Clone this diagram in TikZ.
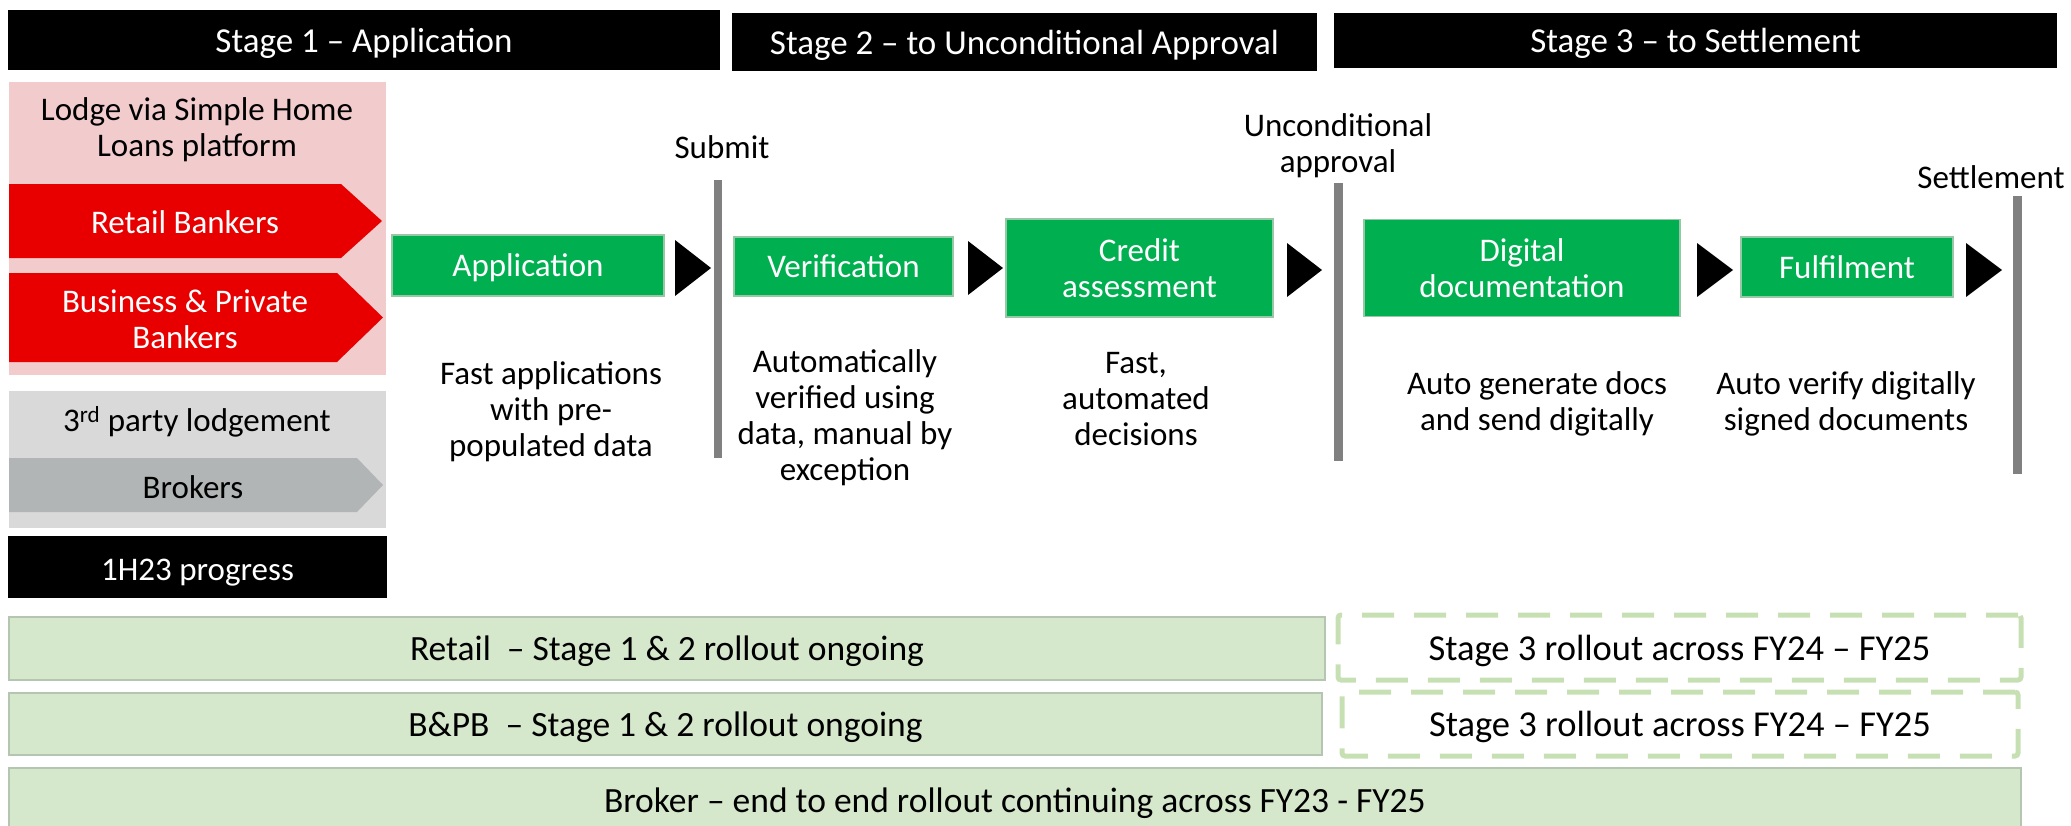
\documentclass[tikz,border=0pt]{standalone}
\usepackage{fontspec}
\setmainfont{Carlito}
\definecolor{procgreen}{RGB}{0,176,80}
\definecolor{procedge}{RGB}{150,200,165}
\definecolor{pinkbg}{RGB}{242,203,205}
\definecolor{redarr}{RGB}{232,0,0}
\definecolor{graybg}{RGB}{217,217,217}
\definecolor{grayarr}{RGB}{178,181,181}
\definecolor{bargray}{RGB}{128,128,128}
\definecolor{barfill}{RGB}{213,232,204}
\definecolor{baredge}{RGB}{180,198,178}
\definecolor{dashgreen}{RGB}{198,224,180}
\begin{document}
\begin{tikzpicture}[x=1pt,y=-1pt,
  hdr/.style={fill=black,text=white,font=\fontsize{35}{40}\selectfont,inner sep=0pt,text depth=0pt},
  txt/.style={font=\fontsize{33}{36}\selectfont,align=center,inner sep=0pt},
  proc/.style={fill=procgreen,draw=procedge,line width=1.5pt,text=white,font=\fontsize{33}{36}\selectfont,align=center,inner sep=0pt},
  lbl/.style={font=\fontsize{33}{36}\selectfont,inner sep=0pt},
  bar/.style={fill=barfill,draw=baredge,line width=1.5pt,font=\fontsize{35.5}{40}\selectfont,inner sep=0pt,text depth=0pt},
  dbox/.style={draw=dashgreen,line width=5pt,dash pattern=on 32pt off 20pt,rounded corners=3pt,font=\fontsize{36.5}{40}\selectfont,inner sep=0pt,text depth=0pt},
  milestone/.style={fill=bargray,draw=none},
  tri/.style={fill=black}]
\useasboundingbox (0,0) rectangle (2071,825);

% headers
\node[hdr,minimum width=712,minimum height=60] (h1) at (364,40) {Stage 1 – Application};
\node[hdr,minimum width=585,minimum height=58] (h2) at (1024.5,42) {Stage 2 – to Unconditional Approval};
\node[hdr,minimum width=723,minimum height=55] (h3) at (1695.5,40) {Stage 3 – to Settlement};

% left column
\fill[pinkbg] (9,82) rectangle (386,375);
\node[txt] (lodge) at (197,130) {Lodge via Simple Home\\Loans platform};
\fill[redarr] (9,184) -- (341,184) -- (382,221) -- (341,258) -- (9,258) -- cycle;
\node[txt,text=white] (retail) at (185,222) {Retail Bankers};
\fill[redarr] (9,273) -- (337,273) -- (383,317.5) -- (337,362) -- (9,362) -- cycle;
\node[txt,text=white] (bpb) at (185,319) {Business \& Private\\Bankers};
\fill[graybg] (9,391) rectangle (386,528);
\node[txt] (third) at (197,422) {3\textsuperscript{rd} party lodgement};
\fill[grayarr] (9,458) -- (357,458) -- (383,485) -- (357,512) -- (9,512) -- cycle;
\node[txt] (brokers) at (193,487) {Brokers};
\node[hdr,font=\fontsize{33}{36}\selectfont,minimum width=379,minimum height=62,text height=27pt] (prog) at (197.5,567) {1H23 progress};

% process
\node[proc,minimum width=272,minimum height=61,text depth=0pt] (app) at (528,265.5) {Application};
\fill[tri] (675,240) -- (711,268) -- (675,296) -- cycle;
\fill[milestone] (714,180) rectangle (722,458);
\node[lbl] (submit) at (722,147) {Submit};
\node[txt] (appd) at (551,412) {Fast applications\\with pre-\\populated data};

\node[proc,minimum width=219,minimum height=59,text depth=0pt] (ver) at (843.5,266.5) {Verification};
\fill[tri] (968,241) -- (1003,268) -- (968,295) -- cycle;
\node[txt] (verd) at (845,418) {Automatically\\verified using\\data, manual by\\exception};

\node[proc,minimum width=267,minimum height=98] (cred) at (1139.5,268) {Credit\\assessment};
\fill[tri] (1287,243) -- (1322,270) -- (1287,297) -- cycle;
\node[txt] (credd) at (1136,399) {Fast,\\automated\\decisions};

\fill[milestone] (1334,183) rectangle (1343,461);
\node[txt] (uncond) at (1338,146) {Unconditional\\approval};

\node[proc,minimum width=316,minimum height=97] (dig) at (1522,268) {Digital\\documentation};
\fill[tri] (1697,243) -- (1733,270) -- (1697,297) -- cycle;
\node[txt] (digd) at (1537,404) {Auto generate docs\\and send digitally};

\node[proc,minimum width=212,minimum height=60,text depth=0pt] (ful) at (1847,267) {Fulfilment};
\fill[tri] (1966,243) -- (2002,270) -- (1966,297) -- cycle;
\node[txt] (fuld) at (1846,404) {Auto verify digitally\\signed documents};

\fill[milestone] (2013,196) rectangle (2022,474);
\node[lbl] (settle) at (1991,177) {Settlement};

% progress bars
\node[bar,minimum width=1316,minimum height=63] (b1) at (667,648.5) {Retail~ – Stage 1 \& 2 rollout ongoing};
\node[bar,minimum width=1313,minimum height=62] (b2) at (665.5,724) {B\&PB~ – Stage 1 \& 2 rollout ongoing};
\node[bar,minimum width=2012,minimum height=64] (b3) at (1015,800) {Broker – end to end rollout continuing across FY23 - FY25};
\node[dbox,minimum width=683,minimum height=65] (d1) at (1679.5,647.5) {Stage 3 rollout across FY24 – FY25};
\node[dbox,minimum width=676,minimum height=64] (d2) at (1680,724) {Stage 3 rollout across FY24 – FY25};
\end{tikzpicture}
\end{document}
